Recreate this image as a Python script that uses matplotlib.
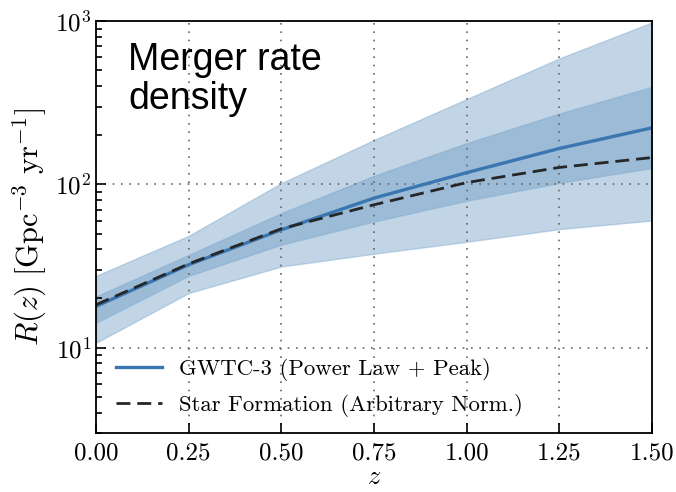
import numpy as np
import matplotlib
matplotlib.use("Agg")
import matplotlib.pyplot as plt

plt.rcParams['font.family'] = 'serif'
plt.rcParams['font.serif'] = ['cmr10']
plt.rcParams['mathtext.fontset'] = 'cm'
plt.rcParams['axes.formatter.use_mathtext'] = True

# redshift grid and rate quantiles [Gpc^-3 yr^-1]
z = [0.0, 0.25, 0.5, 0.75, 1.0, 1.25, 1.5]
r_median = [17.9, 32.2, 52.7, 82.4, 118, 166, 222]
r_50_lo = [14.2, 27.5, 42.7, 59.2, 79.3, 102, 126]
r_50_hi = [20.6, 37.0, 66.7, 113, 179, 272, 396]
r_90_lo = [10.7, 21.6, 31.4, 37.6, 44.5, 53.2, 60.1]
r_90_hi = [27.5, 48.4, 101.7, 187, 333, 591, 982]
r_sfr = [18.3, 32.6, 53.5, 75, 102.6, 127, 146]

fig = plt.figure(figsize=(6.76, 4.92), dpi=100)
ax = fig.add_axes([0.142, 0.12, 0.8225, 0.837])

ax.fill_between(z, r_90_lo, r_90_hi, color='#8fb4d3', alpha=0.55, lw=1.0,
                edgecolor='#8fb4d3')
ax.fill_between(z, r_50_lo, r_50_hi, color='#6f9dc6', alpha=0.45, lw=1.0,
                edgecolor='#7fa8cc')
ax.plot(z, r_median, color='#3a76b0', lw=2.4, label='GWTC-3 (Power Law + Peak)')
ax.plot(z, r_sfr, color='#262626', lw=2.0, ls=(0, (5, 2.5)),
        label='Star Formation (Arbitrary Norm.)')

ax.set_yscale('log')
ax.set_xlim(0, 1.5)
ax.set_ylim(3, 1000)
ax.set_xticks([0, 0.25, 0.5, 0.75, 1.0, 1.25, 1.5])
ax.set_xticklabels(['0.00', '0.25', '0.50', '0.75', '1.00', '1.25', '1.50'])
ax.set_yticks([10, 100, 1000])

ax.grid(True, which='major', color='0.4', ls=(0, (1, 4)), lw=1.2)
ax.tick_params(which='both', direction='in', top=False, right=False,
               labelsize=18, width=1.2)
ax.tick_params(which='major', length=7)
ax.tick_params(which='minor', length=4)
ax.tick_params(axis='x', pad=7)
for sp in ax.spines.values():
    sp.set_linewidth(1.3)

ax.set_xlabel(r'$z$', fontsize=19, labelpad=0)
ax.set_ylabel(r'$R(z)\ [\mathrm{Gpc}^{-3}\ \mathrm{yr}^{-1}]$', fontsize=22,
              labelpad=4)

ax.text(0.058, 0.95, 'Merger rate\ndensity', transform=ax.transAxes,
        family='Liberation Sans', fontsize=27, va='top', ha='left',
        linespacing=1.1)

ax.legend(loc='lower left', frameon=False, fontsize=16.4, handlelength=2.0,
          handletextpad=0.75, borderaxespad=0.5, labelspacing=0.55,
          bbox_to_anchor=(0.0, -0.01))

fig.savefig('out.png', dpi=100)
